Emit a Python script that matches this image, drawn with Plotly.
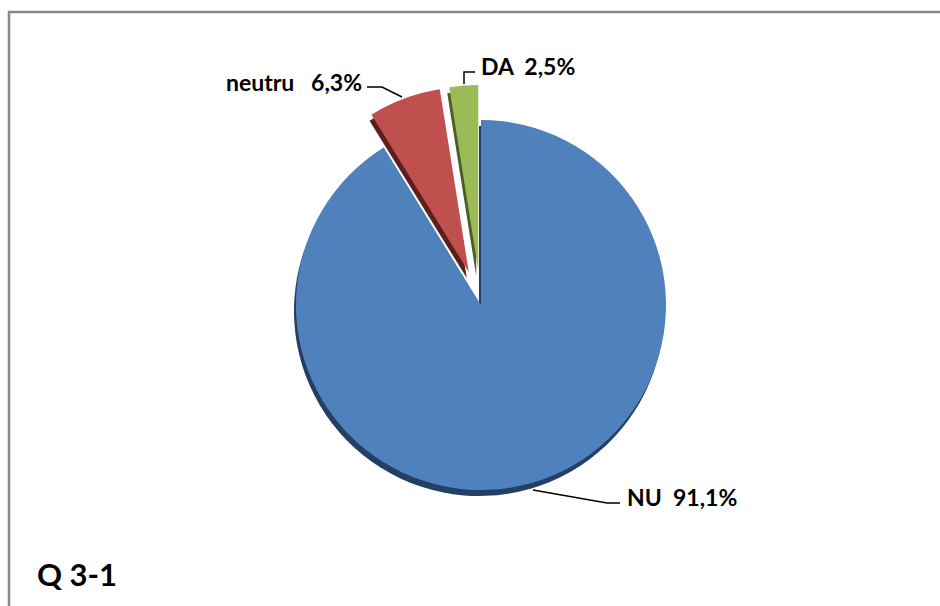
import plotly.graph_objects as go

W, H = 940, 606

categories = ["NU", "neutru", "DA"]
values = [91.1, 6.3, 2.5]
value_labels = ["91,1%", "6,3%", "2,5%"]
pulls = [0, 0.19, 0.19]
colors = ["#4F81BD", "#C0504D", "#9BBB59"]
side_colors = ["#243F66", "#5C1F1D", "#4B5E26"]
title_text = "Q 3-1"


def px(x):
    return x / W


def py(y):
    return 1 - y / H


# pie geometry (pixels)
cx, cy, r = 481, 305, 185
half = r * (1 + max(pulls))


def dom(dx=0, dy=0):
    return dict(x=[px(cx - half + dx), px(cx + half + dx)],
                y=[py(cy + half + dy), py(cy - half + dy)])


fig = go.Figure()
# side / depth layer
fig.add_trace(go.Pie(
    labels=categories, values=values, sort=False, direction="clockwise",
    rotation=0, pull=pulls, textinfo="none", hoverinfo="skip",
    marker=dict(colors=side_colors, line=dict(width=0)),
    domain=dom(-2, 6), showlegend=False))
# top face
fig.add_trace(go.Pie(
    labels=categories, values=values, sort=False, direction="clockwise",
    rotation=0, pull=pulls, textinfo="none",
    marker=dict(colors=colors, line=dict(width=0)),
    domain=dom(), showlegend=False))

font = dict(family="Lato, Carlito, sans-serif", size=23, color="#000000")
label_pos = {
    "NU": (625, 497, "left"),
    "neutru": (364, 82, "right"),
    "DA": (479, 66, "left"),
}
annotations = []
for cat, vl in zip(categories, value_labels):
    x, y, anc = label_pos[cat]
    annotations.append(dict(
        x=px(x), y=py(y), xref="paper", yref="paper",
        text="<b>" + cat + "&nbsp;&nbsp;" + ("&nbsp;" if cat == "neutru" else "") + vl + "</b>",
        showarrow=False, xanchor=anc, yanchor="middle", font=font))
annotations.append(dict(
    x=px(35), y=py(574), xref="paper", yref="paper",
    text="<b>" + title_text + "</b>", showarrow=False,
    xanchor="left", yanchor="middle",
    font=dict(family="Lato, Carlito, sans-serif", size=31, color="#000000")))

def line_path(pts):
    d = "M " + " L ".join(f"{px(x)},{py(y)}" for x, y in pts)
    return d

leaders = [
    [(533, 490), (607, 503), (620, 503)],
    [(367, 87), (382, 87), (402, 97)],
    [(464, 84), (464, 72), (475, 72)],
]
shapes = []
for pts in leaders:
    shapes.append(dict(type="path", xref="paper", yref="paper",
                       path=line_path(pts), line=dict(color="#000000", width=1.5)))
shapes.append(dict(type="rect", xref="paper", yref="paper",
                   x0=px(9), y0=py(12), x1=px(960), y1=py(640),
                   line=dict(color="#898989", width=2.5)))

fig.update_layout(
    width=W, height=H, margin=dict(l=0, r=0, t=0, b=0),
    paper_bgcolor="#FFFFFF", plot_bgcolor="#FFFFFF",
    annotations=annotations, shapes=shapes, showlegend=False)

fig.write_html(
    "out.html",
    config={"displayModeBar": False},
    post_script="document.body.style.margin='0';document.body.style.padding='0';"
                "document.body.style.overflow='hidden';")
